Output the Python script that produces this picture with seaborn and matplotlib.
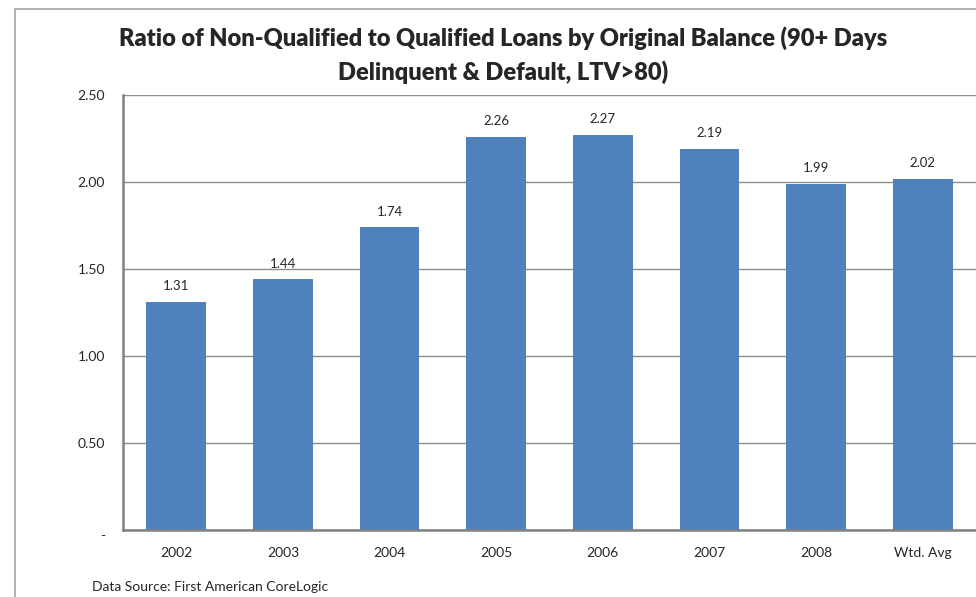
import matplotlib
matplotlib.use("Agg")
import matplotlib.pyplot as plt
import seaborn as sns
import pandas as pd
from matplotlib.patches import Rectangle

categories = ["2002", "2003", "2004", "2005", "2006", "2007", "2008", "Wtd. Avg"]
values = [1.31, 1.44, 1.74, 2.26, 2.27, 2.19, 1.99, 2.02]
y_ticks = [0, 0.5, 1.0, 1.5, 2.0, 2.5]
y_tick_labels = ["-", "0.50", "1.00", "1.50", "2.00", "2.50"]

sns.set_theme(style="white")
plt.rcParams["font.family"] = ["Lato", "DejaVu Sans"]

df = pd.DataFrame({"cat": categories, "val": values})

fig = plt.figure(figsize=(9.76, 5.97), dpi=100)
ax = fig.add_axes([123/976, 1-530/597, 1-123/976, (530-95)/597])

sns.barplot(data=df, x="cat", y="val", color="#4F81BD", saturation=1, width=0.56, ax=ax, zorder=3)
for p in ax.patches:
    p.set_edgecolor("none")

ax.set_ylim(0, 2.5)
ax.set_yticks(y_ticks)
ax.set_yticklabels(y_tick_labels, fontsize=10)
ax.tick_params(axis="y", length=0, pad=13)
ax.tick_params(axis="x", length=0, pad=12, labelsize=10)
for lbl in ax.get_yticklabels():
    if lbl.get_text() == "-":
        lbl.set_va("top")
ax.set_xlabel("")
ax.set_ylabel("")
ax.yaxis.grid(True, color="#8c8c8c", linewidth=1.0, zorder=0)
ax.set_axisbelow(True)
for s in ["top", "right"]:
    ax.spines[s].set_visible(False)
for s in ["left", "bottom"]:
    ax.spines[s].set_color("#808080")
    ax.spines[s].set_linewidth(1.8)
    ax.spines[s].set_zorder(4)

for i, v in enumerate(values):
    ax.annotate(f"{v:.2f}", (i, v), xytext=(0, 7), textcoords="offset points",
                ha="center", va="bottom", fontsize=9.5)

fig.text(503/976, 1-38/597, "Ratio of Non-Qualified to Qualified Loans by Original Balance (90+ Days",
         ha="center", va="center", fontsize=17, fontweight="heavy")
fig.text(503/976, 1-72/597, "Delinquent & Default, LTV>80)",
         ha="center", va="center", fontsize=17, fontweight="heavy")
fig.text(92/976, 1-587/597, "Data Source: First American CoreLogic", ha="left", va="center", fontsize=10)

fig.patches.append(Rectangle((15/976, -0.1), 1.2, 1-9/597+0.1, transform=fig.transFigure,
                             fill=False, edgecolor="#a6a6a6", linewidth=1.2))

fig.savefig("out.png", dpi=100)
